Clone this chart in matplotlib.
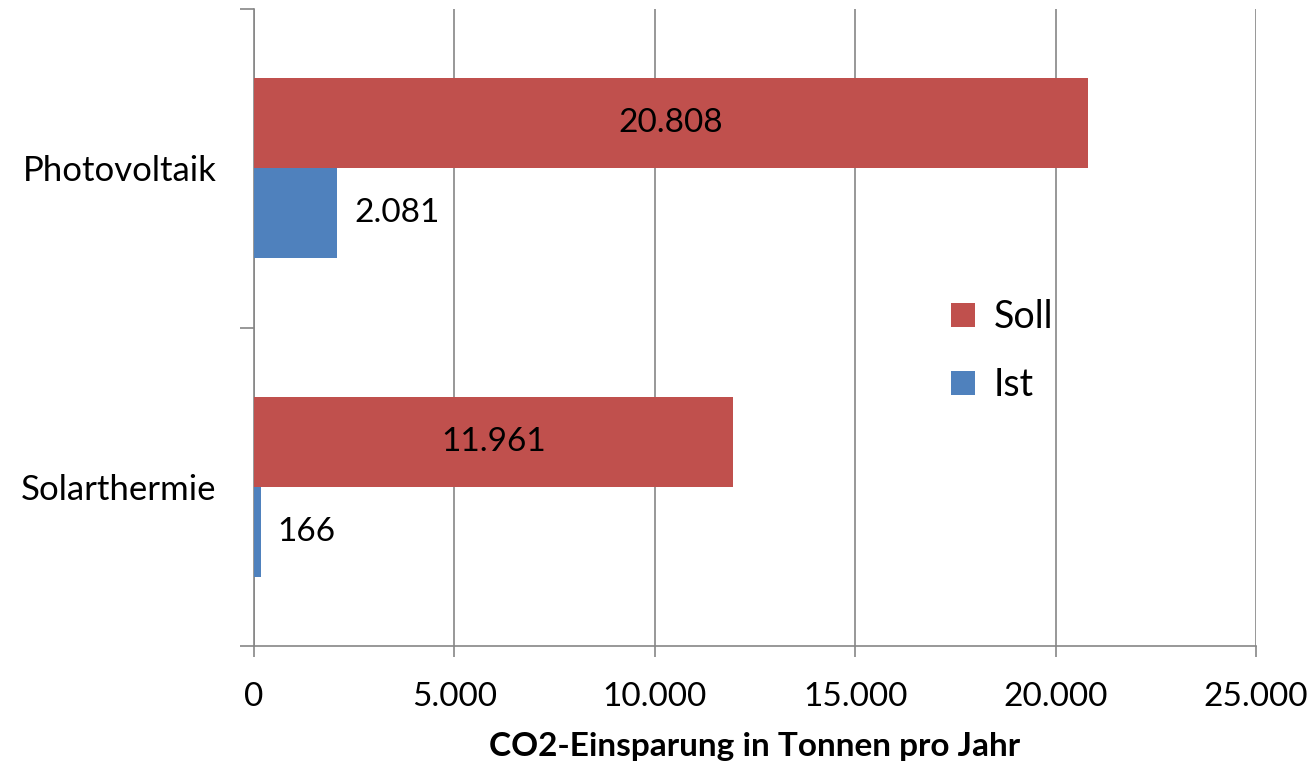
import matplotlib
matplotlib.use("Agg")
import matplotlib.pyplot as plt
from matplotlib.patches import Patch
from matplotlib.ticker import FuncFormatter, FixedLocator

categories = ["Solarthermie", "Photovoltaik"]
soll = [11961, 20808]
ist = [166, 2081]
series_names = ["Soll", "Ist"]
xticks = [0, 5000, 10000, 15000, 20000, 25000]

RED = "#C0504D"
BLUE = "#4F81BD"
GRID = "#868686"

plt.rcParams['font.family'] = ['Lato', 'DejaVu Sans']

fig = plt.figure(figsize=(13.1, 7.68), dpi=100)
ax = fig.add_axes([254/1310, (768-646)/768, (1256-254)/1310, (646-9)/768])

h = 0.283
ypos = list(range(len(categories)))
ax.barh([y + h/2 for y in ypos], soll, height=h, color=RED, zorder=3)
ax.barh([y - h/2 for y in ypos], ist, height=h, color=BLUE, zorder=3)

def fmt(v):
    return f"{int(round(v)):,}".replace(",", ".")

fs = 24
for y, v in zip(ypos, soll):
    ax.text(v/2, y + h/2, fmt(v), ha="center", va="center", fontsize=fs, color="black", zorder=4)
for y, v in zip(ypos, ist):
    ax.annotate(fmt(v), (v, y - h/2), xytext=(17, 0), textcoords="offset pixels",
                ha="left", va="center", fontsize=fs, color="black", zorder=4)

ax.set_xlim(0, 25000)
ax.set_ylim(-0.5, 1.5)
ax.xaxis.set_major_locator(FixedLocator(xticks))
ax.xaxis.set_major_formatter(FuncFormatter(lambda v, p: fmt(v)))
ax.grid(axis="x", color=GRID, linewidth=1.2, zorder=0)
ax.set_axisbelow(True)

ax.set_yticks([-0.5, 0.5, 1.5])
ax.set_yticklabels([])
ax.set_yticks(ypos, minor=True)
ax.set_yticklabels(categories, minor=True, fontsize=25)
ax.tick_params(axis="y", which="minor", length=0, pad=27)
ax.tick_params(axis="y", which="major", length=10, width=1.2, color=GRID)
ax.tick_params(axis="x", which="major", length=8, width=1.2, color=GRID, labelsize=fs, pad=18)

for s in ["top", "right"]:
    ax.spines[s].set_visible(False)
for s in ["left", "bottom"]:
    ax.spines[s].set_color(GRID)
    ax.spines[s].set_linewidth(1.2)

ax.set_xlabel("CO2-Einsparung in Tonnen pro Jahr", fontsize=24, fontweight="bold", labelpad=14)

handles = [Patch(facecolor=RED, edgecolor="none"), Patch(facecolor=BLUE, edgecolor="none")]
leg = ax.legend(handles, series_names, loc="center left", bbox_to_anchor=(0.681, 0.463),
                frameon=False, fontsize=27, handlelength=0.62, handleheight=0.62,
                labelspacing=0.85, handletextpad=0.5, borderaxespad=0)

fig.savefig("out.png", dpi=100)
